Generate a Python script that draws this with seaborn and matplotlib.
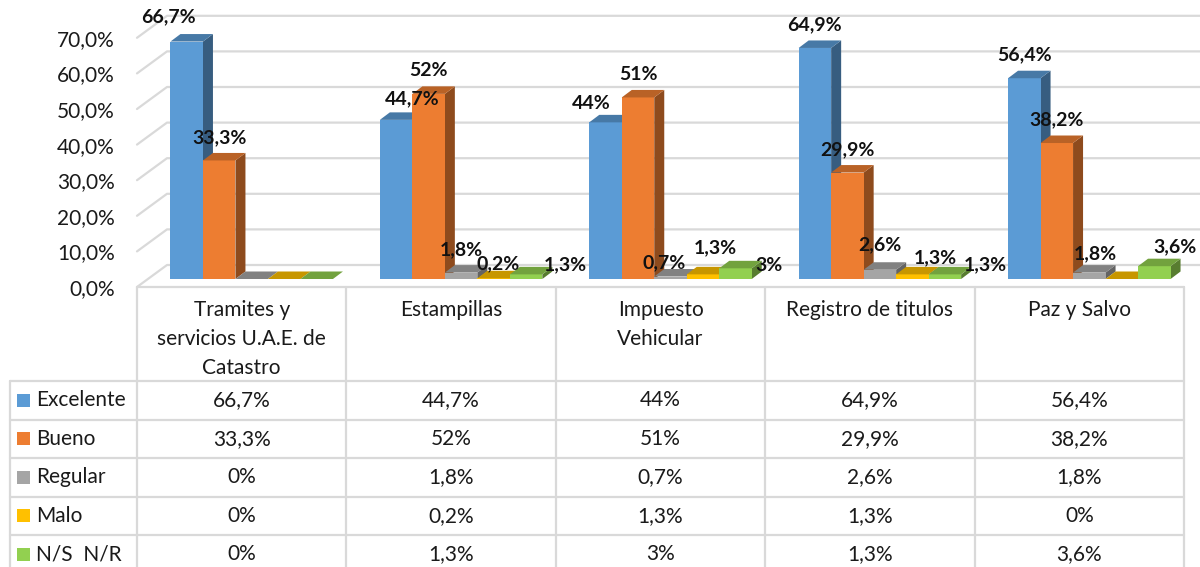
import numpy as np
import pandas as pd
import matplotlib
matplotlib.use("Agg")
import matplotlib.pyplot as plt
import seaborn as sns
from matplotlib.transforms import ScaledTranslation
from matplotlib.patches import Polygon, Rectangle
from matplotlib.lines import Line2D
from matplotlib.colors import to_rgb

# ---------------- data ----------------
categories = ["Tramites y\nservicios U.A.E. de\nCatastro", "Estampillas",
              "Impuesto\nVehicular", "Registro de titulos", "Paz y Salvo"]
series = ["Excelente", "Bueno", "Regular", "Malo", "N/S  N/R"]
excelente = [66.7, 44.7, 44.0, 64.9, 56.4]
bueno = [33.3, 52.0, 51.0, 29.9, 38.2]
regular = [0.0, 1.8, 0.7, 2.6, 1.8]
malo = [0.0, 0.2, 1.3, 1.3, 0.0]
ns_nr = [0.0, 1.3, 3.0, 1.3, 3.6]
y_ticks = [0, 10, 20, 30, 40, 50, 60, 70]

values = [excelente, bueno, regular, malo, ns_nr]
colors = ["#5B9BD5", "#ED7D31", "#A5A5A5", "#FFC000", "#92D050"]

rows = []
for s, vals in zip(series, values):
    for c, v in zip(categories, vals):
        rows.append({"Servicio": c, "Calificacion": s, "Valor": v})
df = pd.DataFrame(rows)


def fmt(v):
    s = f"{v:.1f}".replace(".", ",")
    if s.endswith(",0"):
        s = s[:-2]
    return s + "%"


# label nudges (px) to mimic Excel's label placement
LABEL_NUDGE = {
    (0, 0): (-18, 2), (1, 0): (16, -2), (1, 3): (5, -8), (1, 4): (39, -13),
    (2, 0): (-14, -4), (2, 2): (-6, -9), (2, 3): (12, 4), (2, 4): (33, -20),
    (3, 2): (0, 2), (3, 3): (23, -6), (3, 4): (40, -13),
    (4, 2): (6, -4), (4, 4): (21, -4),
}

# ---------------- figure ----------------
sns.set_theme(style="white")
plt.rcParams["font.family"] = ["Lato", "DejaVu Sans"]

W, H = 1200, 567
fig = plt.figure(figsize=(W / 100, H / 100), dpi=100)


def fx(px):
    return px / W


def fy(py):
    return 1 - py / H


X0, X1, Y0 = 137, 1184, 287
PX_PER_PCT = 3.56
YMAX = 78
TXT = "#1a1a1a"
FS = 15
ax = fig.add_axes([fx(X0), fy(Y0), (X1 - X0) / W, YMAX * PX_PER_PCT / H])

sns.barplot(data=df, x="Servicio", y="Valor", hue="Calificacion",
            order=categories, hue_order=series, palette=colors,
            width=0.776, saturation=1, legend=False, errorbar=None, ax=ax)

ax.set_xlim(-0.5, 4.5)
ax.set_ylim(0, YMAX)
ax.set_xticks([])
ax.set_xlabel("")
ax.set_ylabel("")
for sp in ax.spines.values():
    sp.set_visible(False)
ax.set_yticks(y_ticks)
ax.set_yticklabels([f"{t:.1f}".replace(".", ",") + "%" for t in y_ticks])
ax.tick_params(axis="y", length=0, pad=16, labelsize=FS, labelcolor=TXT)
ax.patch.set_alpha(0)

px_x = (X1 - X0) / 5.0  # pixels per category unit

# back-wall gridlines (perspective)
gx = 30 / px_x
gy = 22 / PX_PER_PCT
x_right = 4.5 + 16 / px_x
for t in y_ticks:
    ax.plot([-0.5, -0.5 + gx, x_right], [t, t + gy, t + gy],
            color="#d9d9d9", lw=1.6, clip_on=False, zorder=1)

# bars: offset front faces, then add 3D side / top faces
bar_off = ScaledTranslation(10 / 100, 8 / 100, fig.dpi_scale_trans)
tb = ax.transData + bar_off
dx = 10 / px_x
dy = 7.5 / PX_PER_PCT

for si, cont in enumerate(ax.containers):
    base = np.array(to_rgb(colors[si]))
    top_c = base * 0.78
    side_c = base * 0.6
    for ci, bar in enumerate(cont.patches):
        x = bar.get_x()
        w = bar.get_width()
        h = bar.get_height()
        order = ci * 5 + si
        z = 3 + order * 0.01
        bar.set_transform(tb)
        bar.set_edgecolor("none")
        bar.set_linewidth(0)
        bar.set_zorder(z + 0.005)
        side = Polygon([(x + w, 0), (x + w + dx, dy), (x + w + dx, h + dy), (x + w, h)],
                       closed=True, facecolor=side_c, edgecolor="none",
                       transform=tb, zorder=z, clip_on=False)
        top = Polygon([(x, h), (x + w, h), (x + w + dx, h + dy), (x + dx, h + dy)],
                      closed=True, facecolor=top_c, edgecolor="none",
                      transform=tb, zorder=z + 0.006, clip_on=False)
        ax.add_patch(side)
        ax.add_patch(top)
        if h > 0:
            nx, ny = LABEL_NUDGE.get((ci, si), (0, 0))
            ax.annotate(fmt(h), xy=(x + w / 2, h), xycoords=tb,
                        xytext=(nx * 0.72, (23 + ny) * 0.72), textcoords="offset points",
                        ha="center", va="center", fontsize=14, fontweight="bold",
                        color="#111111", zorder=10, annotation_clip=False)

# ---------------- data table ----------------
grid_c = "#d9d9d9"
col_x = [X0 + i * px_x for i in range(6)]
row_y = [381, 419.5, 458, 496.5, 535, 573.5]


def hline(y, xa, xb):
    fig.add_artist(Line2D([fx(xa), fx(xb)], [fy(y), fy(y)], color=grid_c, lw=1.6))


def vline(x, ya, yb):
    fig.add_artist(Line2D([fx(x), fx(x)], [fy(ya), fy(yb)], color=grid_c, lw=1.6))


hline(Y0, X0, X1)
for y in row_y[:-1]:
    hline(y, 10, X1)
vline(10, row_y[0], H + 5)
for x in col_x:
    vline(x, Y0, H + 5)

for i, c in enumerate(categories):
    cx = (col_x[i] + col_x[i + 1]) / 2
    fig.text(fx(cx), fy(300), c, ha="center", va="top", fontsize=FS,
             color=TXT, linespacing=1.55)

for si, s in enumerate(series):
    cy = (row_y[si] + row_y[si + 1]) / 2
    fig.add_artist(Rectangle((fx(17), fy(cy + 6.5)), 13 / W, 13 / H,
                             transform=fig.transFigure, facecolor=colors[si],
                             edgecolor="none"))
    fig.text(fx(36), fy(cy), s, ha="left", va="center", fontsize=FS, color=TXT)
    for ci in range(5):
        cx = (col_x[ci] + col_x[ci + 1]) / 2
        fig.text(fx(cx), fy(cy), fmt(values[si][ci]), ha="center", va="center",
                 fontsize=FS, color=TXT)

fig.savefig("out.png", dpi=100)
